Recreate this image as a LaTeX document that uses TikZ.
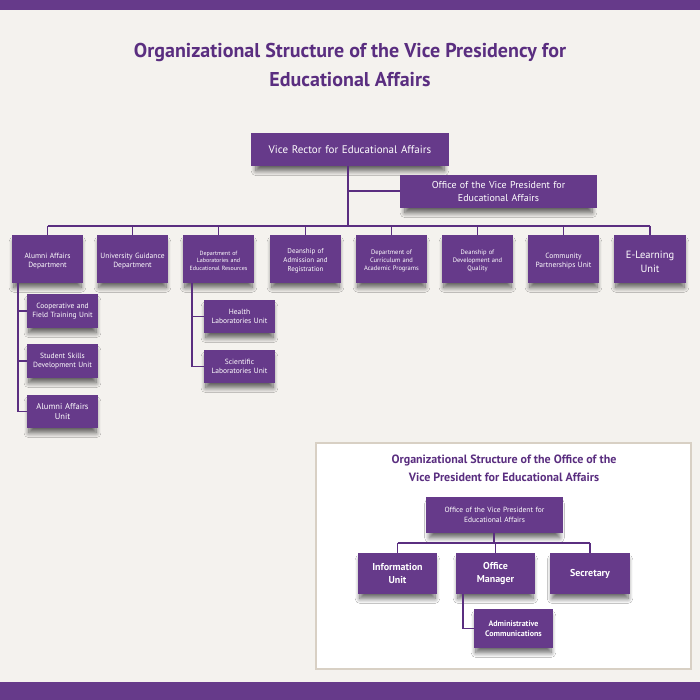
\documentclass[tikz,border=0pt]{standalone}
\usepackage{fontspec}
\setmainfont{PT Sans}
\usetikzlibrary{shadows.blur}
\definecolor{bg}{HTML}{F4F2EE}
\definecolor{pur}{HTML}{663A8A}
\definecolor{dpur}{HTML}{5A2E80}
\definecolor{bord}{HTML}{D8D0C4}
\tikzset{
 box/.style={fill=pur,text=white,align=center,inner sep=1pt,
   blur shadow={shadow xshift=0pt,shadow yshift=-6pt,shadow scale=0.95,shadow opacity=60,shadow blur steps=10,shadow blur radius=5pt}},
 ln/.style={draw=dpur,line width=1.8pt},
}
\newcommand{\bx}[6]{\pgfmathsetmacro{\bw}{#3-#1}\pgfmathsetmacro{\bh}{#4-#2}\pgfmathsetmacro{\tw}{#3-#1-2}%
\node[box,minimum width=\bw pt,minimum height=\bh pt,font=\fontsize{#6pt}{1.25\dimexpr#6pt\relax}\selectfont,text width=\tw pt] (#5) at ({(#1+#3)/2},{(#2+#4)/2})}
\begin{document}
\begin{tikzpicture}[x=1pt,y=-1pt]
\useasboundingbox (0,0) rectangle (700,700);
\fill[bg] (0,0) rectangle (700,700);
\fill[pur] (0,0) rectangle (700,10);
\fill[pur] (0,682) rectangle (700,700);
\node[text=dpur,font=\bfseries\fontsize{20}{29}\selectfont,align=center] (title) at (350,65)
 {Organizational Structure of the Vice Presidency for\\Educational Affairs};
% top
\bx{251}{133}{449}{166}{vr}{11}{Vice Rector for Educational Affairs};
\bx{400}{175}{597}{208}{ovp}{10}{Office of the Vice President for\\Educational Affairs};
\coordinate (j1) at (348,226);
\draw[ln] (vr.south -| j1) -- (j1);
\draw[ln] (348,191) coordinate (j0) -- (ovp.west |- j0);
\bx{12}{235}{83}{283}{a}{7.5}{\\Alumni Affairs\\Department};
\bx{97}{235}{168}{283}{b}{7.5}{\\University Guidance\\Department};
\bx{183}{235}{254}{283}{c}{6}{\\Department of\\Laboratories and\\Educational Resources};
\bx{270}{235}{341}{283}{d}{7}{\\Deanship of\\Admission and\\Registration};
\bx{356}{235}{427}{283}{e}{6.5}{\\Department of\\Curriculum and\\Academic Programs};
\bx{442}{235}{513}{283}{f}{6.5}{\\Deanship of\\Development and\\Quality};
\bx{528}{235}{599}{283}{g}{7.5}{\\Community\\Partnerships Unit};
\bx{614}{235}{686}{283}{h}{10.5}{\\E-Learning\\Unit};
\draw[ln] (a.north |- j1) -- (h.north |- j1);
\foreach \n in {a,b,c,d,e,f,g,h} \draw[ln] (\n.north |- j1) -- (\n.north);
% alumni children
\bx{27}{294}{98}{328}{a1}{7.5}{Cooperative and\\Field Training Unit};
\bx{27}{344}{98}{378}{a2}{7.5}{Student Skills\\Development Unit};
\bx{27}{395}{98}{428}{a3}{8.5}{Alumni Affairs\\Unit};
\draw[ln] (18,283) coordinate (ta) -- (ta |- a3.west) -- (a3.west);
\draw[ln] (ta |- a1.west) -- (a1.west);
\draw[ln] (ta |- a2.west) -- (a2.west);
\bx{204}{300}{275}{333}{c1}{7.5}{Health\\Laboratories Unit};
\bx{204}{350}{275}{383}{c2}{7.5}{Scientific\\Laboratories Unit};
\draw[ln] (192,283) coordinate (tc) -- (tc |- c2.west) -- (c2.west);
\draw[ln] (tc |- c1.west) -- (c1.west);
% inset
\draw[bord,fill=white,line width=1.2pt] (316,443) rectangle (691,669);
\node[text=dpur,font=\bfseries\fontsize{12}{18}\selectfont,align=center] (it) at (504,468)
 {Organizational Structure of the Office of the\\Vice President for Educational Affairs};
\bx{426}{497}{563}{533}{o}{7.5}{Office of the Vice President for\\Educational Affairs};
\bx{358}{553}{437}{594}{o1}{10}{\bfseries Information\\\bfseries Unit};
\bx{456}{553}{535}{594}{o2}{10}{\bfseries Office\\\bfseries Manager};
\bx{550}{553}{630}{594}{o3}{10}{\bfseries Secretary};
\bx{474}{609}{553}{648}{o4}{8}{\bfseries Administrative\\\bfseries Communications};
\coordinate (j2) at (494,543);
\draw[ln] (o.south -| j2) -- (j2);
\draw[ln] (o1.north |- j2) -- (o3.north |- j2);
\foreach \n in {o1,o2,o3} \draw[ln] (\n.north |- j2) -- (\n.north);
\draw[ln] (463,594) coordinate (to) -- (to |- o4.west) -- (o4.west);
\end{tikzpicture}
\end{document}
